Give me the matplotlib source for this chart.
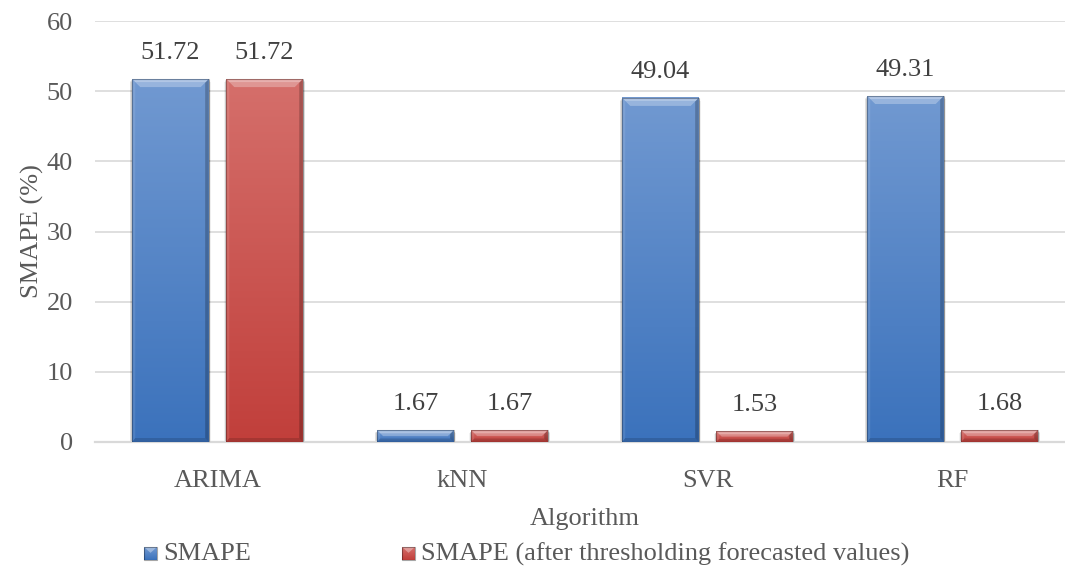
import numpy as np
import matplotlib
matplotlib.use("Agg")
import matplotlib.pyplot as plt
from matplotlib.patches import Polygon, Rectangle
from matplotlib.colors import to_rgb

# ---- data ----
algorithms = ["ARIMA", "kNN", "SVR", "RF"]
smape = [51.72, 1.67, 49.04, 49.31]
smape_thresholded = [51.72, 1.67, 1.53, 1.68]
series_names = ["SMAPE", "SMAPE (after thresholding forecasted values)"]
y_ticks = [0, 10, 20, 30, 40, 50, 60]

# ---- styling ----
FONT = ["Liberation Serif", "DejaVu Serif"]
TEXT_COLOR = "#595959"
GRID_COLOR = "#d9d9d9"
FS = 19
BLUE = ("#7199d1", "#3b72bc")
RED = ("#d56f6b", "#c13f3b")

plt.rcParams["font.family"] = FONT

W, H, DPI = 1065, 574, 100
fig = plt.figure(figsize=(W / DPI, H / DPI), dpi=DPI)
fig.patch.set_facecolor("white")

ax_left, ax_right, ax_top, ax_bot = 95, 1075, 21, 442
ax = fig.add_axes([ax_left / W, 1 - ax_bot / H,
                   (ax_right - ax_left) / W, (ax_bot - ax_top) / H])
ax.set_facecolor("none")

n = len(algorithms)
xlim = (-0.5, n - 0.5)
ylim = (0, 60)
px_x = (ax_right - ax_left) / (xlim[1] - xlim[0])   # pixels per x unit
px_y = (ax_bot - ax_top) / (ylim[1] - ylim[0])     # pixels per y unit

bar_w = 0.312
offset = 0.192


def draw_bar(xc, h, colors):
    x0, x1 = xc - bar_w / 2, xc + bar_w / 2
    hpx = h * px_y
    # soft shadow
    for k, a in [(4, 0.05), (3, 0.07), (2, 0.09)]:
        ax.add_patch(Rectangle((x0 - k * 0.6 / px_x, -k / px_y),
                               bar_w + 2 * k * 0.6 / px_x, h + k * 0.3 / px_y,
                               facecolor="black", alpha=a, lw=0, zorder=2))
    # gradient body
    c0, c1 = np.array(to_rgb(colors[0])), np.array(to_rgb(colors[1]))
    t = np.linspace(0, 1, 256)[:, None]
    img = (c0[None, :] * (1 - t) + c1[None, :] * t)[:, None, :]
    ax.imshow(img, extent=[x0, x1, 0, h], aspect="auto", zorder=3,
              interpolation="bilinear", origin="upper")
    # bevel
    tpx = min(8.0, hpx * 0.5)
    tt = tpx / py if (py := px_y) else 0
    tx = tpx / px_x
    bb = min(4.0, hpx * 0.3) / px_y
    sl = 3.0 / px_x
    sr = 3.5 / px_x
    left_poly = [(x0, 0), (x0, h), (x0 + sl, h - 3 / px_y), (x0 + sl, bb)]
    right_poly = [(x1, 0), (x1, h), (x1 - sr, h - 3.5 / px_y), (x1 - sr, bb)]
    bot_poly = [(x0, 0), (x1, 0), (x1 - sr, bb), (x0 + sl, bb)]
    top_poly = [(x0, h), (x1, h), (x1 - tx, h - tt), (x0 + tx, h - tt)]
    ax.add_patch(Polygon(left_poly, closed=True, facecolor="white", alpha=0.10, lw=0, zorder=4))
    ax.add_patch(Polygon(right_poly, closed=True, facecolor="black", alpha=0.22, lw=0, zorder=4))
    ax.add_patch(Polygon(bot_poly, closed=True, facecolor="black", alpha=0.14, lw=0, zorder=4))
    ax.add_patch(Polygon(top_poly, closed=True, facecolor="white", alpha=0.28, lw=0, zorder=4))
    # brighter strip along the very top edge
    ax.add_patch(Polygon([(x0 + 1 / px_x, h - 1 / px_y), (x1 - 1 / px_x, h - 1 / px_y),
                          (x1 - 3 / px_x, h - 3 / px_y), (x0 + 3 / px_x, h - 3 / px_y)],
                         closed=True, facecolor="white", alpha=0.25, lw=0, zorder=4))
    ax.add_patch(Rectangle((x0, 0), bar_w, h, facecolor="none",
                           edgecolor=(0, 0, 0, 0.28), lw=0.8, zorder=5))


label_off_pt = 26 * 72 / DPI
for i in range(n):
    for vals, cols, sgn in [(smape, BLUE, -1), (smape_thresholded, RED, 1)]:
        xc = i + sgn * offset
        draw_bar(xc, vals[i], cols)
        ax.annotate(f"{vals[i]:.2f}", (xc, vals[i]), xytext=(0, label_off_pt),
                    textcoords="offset points", ha="center", va="center",
                    fontsize=FS, color="#404040", zorder=6)

ax.set_xlim(*xlim)
ax.set_ylim(*ylim)
ax.set_yticks(y_ticks)
ax.set_yticklabels([str(v) for v in y_ticks])
ax.set_xticks(range(n))
ax.set_xticklabels(algorithms)
ax.tick_params(axis="both", length=0, labelsize=FS, labelcolor=TEXT_COLOR)
ax.tick_params(axis="y", pad=16)
ax.tick_params(axis="x", pad=20)
ax.grid(axis="y", color=GRID_COLOR, lw=1.2, zorder=0)
ax.set_axisbelow(True)
for s in ["top", "right", "left"]:
    ax.spines[s].set_visible(False)
ax.spines["bottom"].set_color(GRID_COLOR)
ax.spines["bottom"].set_linewidth(1.6)
ax.set_xlabel("Algorithm", fontsize=FS, color=TEXT_COLOR, labelpad=12)
ax.set_ylabel("SMAPE (%)", fontsize=FS, color=TEXT_COLOR, labelpad=2)

# legend drawn in pixel coordinates on an overlay
ov = fig.add_axes([0, 0, 1, 1], zorder=10)
ov.set_xlim(0, W)
ov.set_ylim(H, 0)
ov.axis("off")
ov.patch.set_alpha(0)


def legend_marker(x, y, colors):
    s = 13
    c0, c1 = np.array(to_rgb(colors[0])), np.array(to_rgb(colors[1]))
    t = np.linspace(0, 1, 64)[:, None]
    img = (c0[None, :] * (1 - t) + c1[None, :] * t)[:, None, :]
    ov.imshow(img, extent=[x, x + s, y + s, y], aspect="auto", origin="upper",
              interpolation="bilinear")
    ov.add_patch(Polygon([(x, y), (x + s, y), (x + s / 2, y + s * 0.45)], closed=True,
                         facecolor="white", alpha=0.35, lw=0))
    ov.add_patch(Rectangle((x, y), s, s, facecolor="none",
                           edgecolor=(0, 0, 0, 0.35), lw=0.8))


legend_items = [(144, BLUE, 163), (402, RED, 421)]
for (mx, cols, tx), name in zip(legend_items, series_names):
    legend_marker(mx, 547, cols)
    ov.text(tx, 554, name, fontsize=FS, color=TEXT_COLOR, ha="left", va="center")
ov.set_xlim(0, W)
ov.set_ylim(H, 0)

fig.savefig("out.png", dpi=DPI, facecolor="white")
